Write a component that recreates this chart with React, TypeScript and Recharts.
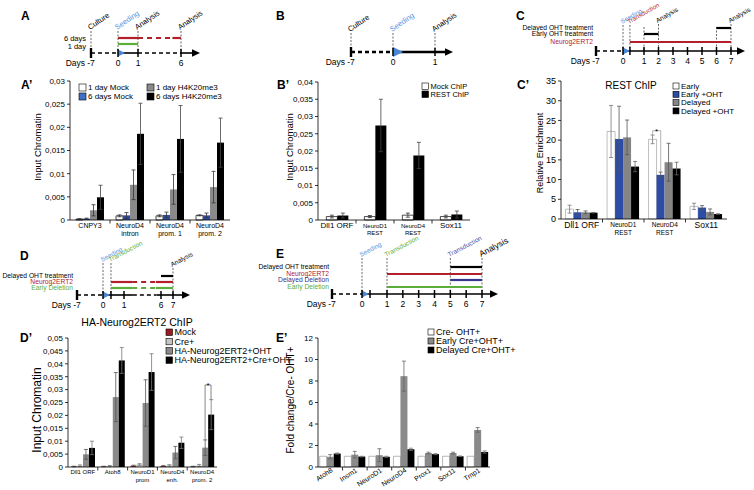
import React from 'react';
import {
  BarChart, Bar, XAxis, YAxis, ErrorBar,
  LineChart, Line, ReferenceLine, ReferenceDot,
} from 'recharts';

const FONT = 'Arial, "Liberation Sans", Helvetica, sans-serif';
const RED = '#b3202c';
const GREEN = '#5cae3a';
const SKY = '#5b94df';
const NAVY = '#34358f';
const TRI = '#4a86d6';
const BLUE = '#2d4ca6';
const GRAY = '#8a8a8a';

// ---------- A' : H4K20me3 ChIP ----------
const aCats = ['CNPY3', 'NeuroD4\nintron', 'NeuroD4\nprom. 1', 'NeuroD4\nprom. 2'];
const aMock1 = [0.0002, 0.0009, 0.0009, 0.001];
const aMock1Err = [0.0001, 0.0002, 0.0002, 0.0001];
const aMock6 = [0.0003, 0.001, 0.0011, 0.001];
const aMock6Err = [0.0001, 0.0006, 0.0006, 0.0005];
const aH1 = [0.0021, 0.0076, 0.0066, 0.0071];
const aH1Err = [0.0012, 0.0032, 0.0032, 0.0034];
const aH6 = [0.0049, 0.0186, 0.0175, 0.0167];
const aH6Err = [0.0026, 0.0066, 0.0072, 0.0053];
const aTicks = [0, 0.005, 0.01, 0.015, 0.02, 0.025, 0.03];

// ---------- B' : REST ChIP ----------
const bCats = ['Dll1 ORF', 'NeuroD1\nREST', 'NeuroD4\nREST', 'Sox11'];
const bMock = [0.001, 0.001, 0.0014, 0.001];
const bMockErr = [0.0004, 0.0003, 0.0006, 0.0004];
const bRest = [0.0013, 0.0274, 0.0187, 0.0016];
const bRestErr = [0.0007, 0.0076, 0.0038, 0.001];
const bTicks = [0, 0.005, 0.01, 0.015, 0.02, 0.025, 0.03, 0.035, 0.04];

// ---------- C' : REST ChIP relative enrichment ----------
const cCats = ['Dll1 ORF', 'NeuroD1\nREST', 'NeuroD4\nREST', 'Sox11'];
const cEarly = [2.5, 22.2, 20.2, 3.2];
const cEarlyErr = [1.0, 6.6, 1.1, 0.8];
const cEarlyOht = [1.7, 20.3, 11.2, 2.9];
const cEarlyOhtErr = [0.7, 8.3, 0.7, 0.5];
const cDelayed = [1.7, 20.7, 14.4, 1.8];
const cDelayedErr = [0.35, 4.4, 4.8, 0.75];
const cDelayedOht = [1.6, 13.3, 12.8, 1.26];
const cDelayedOhtErr = [0.05, 1.3, 1.6, 0.05];
const cTicks = [0, 5, 10, 15, 20, 25, 30, 35];
const cSigLevel = 22.4;

// ---------- D' : HA-Neurog2ERT2 ChIP ----------
const dCats = ['Dll1 ORF', 'Atoh8', 'NeuroD1\nprom', 'NeuroD4\nenh.', 'NeuroD4\nprom. 2'];
const dMock = [0.0002, 0.0002, 0.0005, 0.0004, 0.0002];
const dMockErr = [0.0001, 0.0001, 0.0002, 0.0002, 0.0001];
const dCre = [0.0005, 0.0004, 0.001, 0.0006, 0.0006];
const dCreErr = [0.0003, 0.0002, 0.0003, 0.0003, 0.0004];
const dOht = [0.0049, 0.0271, 0.0248, 0.0056, 0.0075];
const dOhtErr = [0.0019, 0.0095, 0.009, 0.0024, 0.003];
const dCreOht = [0.0074, 0.0413, 0.0368, 0.0094, 0.0203];
const dCreOhtErr = [0.0026, 0.005, 0.0071, 0.0022, 0.0058];
const dTicks = [0, 0.005, 0.01, 0.015, 0.02, 0.025, 0.03, 0.035, 0.04, 0.045, 0.05];
const dSigLevel = 0.0318;

// ---------- E' : fold change ----------
const eCats = ['Atoh8', 'Insm1', 'NeuroD1', 'NeuroD4', 'Prox1', 'Sox11', 'Tmp1'];
const eCtrl = [1, 1, 1, 1, 1, 1, 1];
const eEarly = [0.95, 1.15, 1.1, 8.45, 1.3, 1.3, 3.45];
const eEarlyErr = [0.2, 0.3, 0.6, 1.4, 0.08, 0.08, 0.22];
const eDelayed = [1.25, 0.97, 0.95, 1.65, 1.2, 1.0, 1.4];
const eDelayedErr = [0.05, 0.03, 0.05, 0.1, 0.05, 0.03, 0.1];
const eTicks = [0, 2, 4, 6, 8, 10, 12];

// ---------- timelines (days) ----------
type Span = [number, number, boolean?];
type TGuide = { day: number; top: number; text?: string; color?: string; size?: number };
type TBar = { text: string; color: string; textColor?: string; y: number; ty?: number; spans: Span[] };

const tlADays = [-7, 0, 1, 6];
const tlAGuides: TGuide[] = [
  { day: -7, top: 31, text: 'Culture' },
  { day: 0, top: 31, text: 'Seeding', color: SKY },
  { day: 1, top: 31, text: 'Analysis' },
  { day: 6, top: 31, text: 'Analysis' },
];
const tlABars: TBar[] = [
  { text: '6 days', color: RED, textColor: '#000', y: 38, ty: 0.5, spans: [[0, 1], [1, 5, true], [5, 6]] },
  { text: '1 day', color: GREEN, textColor: '#000', y: 44, ty: 2, spans: [[0, 1]] },
];

const tlBDays = [-7, 0, 1];
const tlBGuides: TGuide[] = [
  { day: -7, top: 33, text: 'Culture' },
  { day: 0, top: 33, text: 'Seeding', color: SKY },
  { day: 1, top: 33, text: 'Analysis' },
];

const tlCDays = [-7, 0, 1, 2, 3, 4, 5, 6, 7];
const tlCGuides: TGuide[] = [
  { day: 0, top: 25, text: 'Seeding', color: SKY },
  { day: 0.33, top: 25, text: 'Transduction', color: RED, size: 6.2 },
  { day: 1, top: 27 },
  { day: 2, top: 24, text: 'Analysis' },
  { day: 6, top: 27 },
  { day: 7, top: 24, text: 'Analysis' },
];
const tlCBars: TBar[] = [
  { text: 'Delayed OHT treatment', color: '#000', y: 28, spans: [[6, 7]] },
  { text: 'Early OHT treatment', color: '#000', y: 34, spans: [[1, 2]] },
  { text: 'Neurog2ERT2', color: RED, y: 42, spans: [[0.33, 7]] },
];

const tlDDays = [-7, 0, 1, 6, 7];
const tlDGuides: TGuide[] = [
  { day: 0, top: 263, text: 'Seeding', color: SKY },
  { day: 0.38, top: 263, text: 'Transduction', color: GREEN },
  { day: 7, top: 268, text: 'Analysis' },
];
const tlDBars: TBar[] = [
  { text: 'Delayed OHT treatment', color: '#000', y: 276, spans: [[6, 7]] },
  { text: 'Neurog2ERT2', color: RED, y: 282, spans: [[0.38, 2.1], [2.1, 5.3, true], [5.3, 7]] },
  { text: 'Early Deletion', color: GREEN, y: 288, spans: [[0.38, 2.1], [2.1, 5.3, true], [5.3, 7]] },
];

const tlEDays = [-7, 0, 1, 2, 3, 4, 5, 6, 7];
const tlEGuides: TGuide[] = [
  { day: 0, top: 258, text: 'Seeding', color: SKY },
  { day: 1, top: 258, text: 'Transduction', color: GREEN },
  { day: 5, top: 258, text: 'Transduction', color: '#4d4da6' },
  { day: 7, top: 258, text: 'Analysis', size: 8.5 },
];
const tlEBars: TBar[] = [
  { text: 'Delayed OHT treatment', color: '#000', y: 267, spans: [[5, 7]] },
  { text: 'Neurog2ERT2', color: RED, y: 274, spans: [[1, 7]] },
  { text: 'Delayed Deletion', color: NAVY, y: 280, spans: [[5, 7]] },
  { text: 'Early Deletion', color: GREEN, y: 287, spans: [[1, 7]] },
];

type TL = {
  box: { left: number; top: number; width: number; height: number };
  anchors: number[][];
  axisY: number;
  labelX: number;
  rowFont: number;
  angle: number;
  guideFont: number;
  ticks: number[];
  extra: number[];
  axis: Span[];
  guides: TGuide[];
  bars: TBar[];
  thick?: boolean;
  tri?: number;
};

const tlA: TL = {
  box: { left: 0, top: 0, width: 250, height: 72 },
  anchors: [[-7, 91], [0, 118], [1, 138], [6, 181], [6.9, 200]],
  axisY: 53, labelX: 86, rowFont: 7.5, angle: 34, guideFont: 7.5,
  ticks: tlADays, extra: [], axis: [[-7, 0, true], [0, 1], [1, 6, true], [6, 6.9]],
  guides: tlAGuides, bars: tlABars,
};
const tlB: TL = {
  box: { left: 250, top: 0, width: 250, height: 72 },
  anchors: [[-7, 351], [0, 393], [1, 435], [1.43, 453]],
  axisY: 52, labelX: 340, rowFont: 8, angle: 34, guideFont: 7.5,
  ticks: tlBDays, extra: [], axis: [[-7, 0, true], [0, 1.43]],
  guides: tlBGuides, bars: [], thick: true, tri: 10,
};
const tlC: TL = {
  box: { left: 500, top: 0, width: 254, height: 72 },
  anchors: [[-7, 596], [0, 623], [1, 644], [7, 731], [8, 745]],
  axisY: 51, labelX: 593, rowFont: 6.7, angle: 30, guideFont: 6.5,
  ticks: tlCDays, extra: [0.33], axis: [[-7, 0, true], [0, 8]],
  guides: tlCGuides, bars: tlCBars,
};
const tlD: TL = {
  box: { left: 0, top: 238, width: 250, height: 76 },
  anchors: [[-7, 77], [0, 103], [1, 124], [6, 161], [7, 173], [8.5, 190]],
  axisY: 295, labelX: 73, rowFont: 6.7, angle: 28, guideFont: 6.5,
  ticks: tlDDays, extra: [0.38], axis: [[-7, 0, true], [0, 2.2], [2.2, 5.4, true], [5.4, 8.5]],
  guides: tlDGuides, bars: tlDBars,
};
const tlE: TL = {
  box: { left: 250, top: 226, width: 262, height: 88 },
  anchors: [[-7, 332], [0, 362], [1, 387], [7, 482], [8, 498]],
  axisY: 294, labelX: 329, rowFont: 6.7, angle: 28, guideFont: 6.5,
  ticks: tlEDays, extra: [0.32], axis: [[-7, 0, true], [0, 8]],
  guides: tlEGuides, bars: tlEBars,
};

// piecewise day -> page x (broken schematic axis)
const warp = (a: number[][], d: number) => {
  let i = 0;
  while (i < a.length - 2 && d > a[i + 1][0]) i++;
  const [d0, x0] = a[i];
  const [d1, x1] = a[i + 1];
  return x0 + ((d - d0) * (x1 - x0)) / (d1 - d0);
};

function Timeline({ t }: { t: TL }) {
  const X = (d: number) => warp(t.anchors, d);
  const end = t.anchors[t.anchors.length - 1][0];
  const pts = [
    ...t.ticks.map((d, i) => ({ x: X(d), y: t.axisY, label: String(d), first: i === 0 })),
    ...t.extra.map((d) => ({ x: X(d), y: t.axisY, label: '', first: false })),
  ].sort((p, q) => p.x - q.x);
  const aw = t.thick ? 2.6 : 1.6;
  const tri = t.tri || 7;

  const tickDot = (p: any) => {
    const { cx, cy, payload, index } = p;
    const f = payload.first;
    return (
      <g key={'tk' + index}>
        <line x1={cx} x2={cx} y1={cy - (f ? 5 : 4)} y2={cy + (f ? 5 : 4)} stroke="#000" strokeWidth={f ? 2.4 : 1.5} />
        {payload.label && (
          <text x={cx} y={cy + 13} textAnchor="middle" fontSize={8.5} fill="#000">{payload.label}</text>
        )}
        {f && <text x={cx - 6} y={cy + 13} textAnchor="end" fontSize={8.5} fill="#000">Days</text>}
      </g>
    );
  };

  return (
    <div style={{ position: 'absolute', left: t.box.left, top: t.box.top }}>
      <LineChart width={t.box.width} height={t.box.height} data={pts} margin={{ top: 0, right: 0, bottom: 0, left: 0 }}>
        <XAxis type="number" dataKey="x" domain={[t.box.left, t.box.left + t.box.width]} hide />
        <YAxis type="number" domain={[t.box.top, t.box.top + t.box.height]} reversed hide />
        {t.guides.map((g, i) => (
          <ReferenceLine key={'g' + i} segment={[{ x: X(g.day), y: g.top }, { x: X(g.day), y: t.axisY }]}
            stroke="#000" strokeWidth={0.6} strokeDasharray="2 1.5" ifOverflow="visible" />
        ))}
        {t.axis.map(([a, b, dashed], i) => (
          <ReferenceLine key={'ax' + i}
            segment={[{ x: X(a), y: t.axisY }, { x: X(b) - (b === end ? 5 : 0), y: t.axisY }]}
            stroke="#000" strokeWidth={aw} strokeDasharray={dashed ? '4 3' : undefined} ifOverflow="visible" />
        ))}
        {t.bars.flatMap((b, i) => b.spans.map(([a, c, dashed], j) => (
          <ReferenceLine key={'b' + i + '_' + j} segment={[{ x: X(a), y: b.y }, { x: X(c), y: b.y }]}
            stroke={b.color} strokeWidth={2.2} strokeDasharray={dashed ? '5 4' : undefined} ifOverflow="visible" />
        )))}
        {t.bars.map((b, i) => (
          <ReferenceDot key={'bl' + i} x={t.labelX} y={b.y} r={1} ifOverflow="visible"
            shape={(p: any) => (
              <text x={p.cx} y={p.cy + (b.ty || 0) + t.rowFont * 0.36} textAnchor="end" fontSize={t.rowFont}
                fill={b.textColor || b.color}>{b.text}</text>
            )} />
        ))}
        {t.guides.filter((g) => g.text).map((g, i) => (
          <ReferenceDot key={'gl' + i} x={X(g.day)} y={g.top} r={1} ifOverflow="visible"
            shape={(p: any) => (
              <text x={p.cx - 1} y={p.cy - 1} fontSize={g.size || t.guideFont} fill={g.color || '#000'}
                transform={`rotate(-${t.angle} ${p.cx - 1} ${p.cy - 1})`}>{g.text}</text>
            )} />
        ))}
        <ReferenceDot x={X(0)} y={t.axisY} r={1} ifOverflow="visible"
          shape={(p: any) => (
            <polygon points={`${p.cx},${p.cy - tri / 2} ${p.cx + tri},${p.cy} ${p.cx},${p.cy + tri / 2}`} fill={TRI} />
          )} />
        <ReferenceDot x={X(end)} y={t.axisY} r={1} ifOverflow="visible"
          shape={(p: any) => (
            <polygon points={`${p.cx},${p.cy} ${p.cx - 8},${p.cy - 3.8} ${p.cx - 8},${p.cy + 3.8}`} fill="#000" />
          )} />
        <Line dataKey="y" stroke="none" dot={tickDot} activeDot={false} isAnimationActive={false} />
      </LineChart>
    </div>
  );
}

// ---------- bar panels ----------
const rows = (cats: string[], cols: [number[], number[]?][]) =>
  cats.map((cat, i) => {
    const r: any = { cat };
    cols.forEach(([v, e], k) => {
      r['s' + k] = v[i];
      if (e) r['e' + k] = e[i];
    });
    return r;
  });

const comma = (v: number) => (v === 0 ? '0' : String(v).replace('.', ','));

const catTick = (band: number, c1: number, lh: number, font: (s: string) => number, rotate = false) => (p: any) => {
  const { x, y, payload, index } = p;
  const v = String(payload.value);
  const lines = v.split('\n');
  const fs = font(v);
  const bx = x - band / 2;
  return (
    <g>
      {index > 0 && <line x1={bx} x2={bx} y1={y} y2={y + 3.5} stroke="#000" strokeWidth={0.8} />}
      {rotate ? (
        <text x={x + 3} y={y + 4.5} textAnchor="end" fontSize={fs} fill="#000" transform={`rotate(-33 ${x + 3} ${y + 4.5})`}>{v}</text>
      ) : (
        <text x={x} y={y + c1 + fs * 0.36} textAnchor="middle" fontSize={fs} fill="#000">
          {lines.map((l, i) => (
            <tspan key={i} x={x} dy={i === 0 ? 0 : lh}>{l}</tspan>
          ))}
        </text>
      )}
    </g>
  );
};

type Series = { fill: string; stroke?: string; err?: string };
type Sig = { cat: string; k1: number; v1: number; k2: number; v2: number; top: number; color: string };
type BP = {
  box: { left: number; top: number; width: number; height: number };
  margin: { top: number; right: number; bottom: number; left: number };
  yWidth: number;
  xHeight: number;
  data: any[];
  series: Series[];
  domain: [number, number];
  ticks: number[];
  fmt?: (v: number) => string;
  gap: number;
  yFont: number;
  tick: (band: number) => any;
  sig?: Sig;
};

function BarPanel(p: BP) {
  const plotW = p.box.width - p.margin.left - p.margin.right - p.yWidth;
  const band = plotW / p.data.length;
  const group = band * (1 - 2 * p.gap);
  const barW = group / p.series.length;
  const off = (k: number) => (k + 0.5) * barW - group / 2;
  const s = p.sig;
  return (
    <div style={{ position: 'absolute', left: p.box.left, top: p.box.top }}>
      <BarChart width={p.box.width} height={p.box.height} data={p.data} margin={p.margin}
        barCategoryGap={`${p.gap * 100}%`} barGap={0}>
        <XAxis dataKey="cat" interval={0} tickSize={0} tickMargin={0} height={p.xHeight}
          axisLine={{ stroke: '#000', strokeWidth: 0.8 }} tickLine={false} tick={p.tick(band)} />
        <YAxis type="number" domain={p.domain} ticks={p.ticks} interval={0} tickFormatter={p.fmt}
          width={p.yWidth} tickSize={3} tickMargin={2}
          axisLine={{ stroke: '#000', strokeWidth: 0.8 }} tickLine={{ stroke: '#000', strokeWidth: 0.8 }}
          tick={{ fontSize: p.yFont, fill: '#000' }} />
        {p.series.map((sr, k) => (
          <Bar key={k} dataKey={'s' + k} fill={sr.fill} stroke={sr.stroke || 'none'} strokeWidth={sr.stroke ? 0.7 : 0}
            isAnimationActive={false}>
            {sr.err && <ErrorBar dataKey={'e' + k} width={2} stroke={sr.err} strokeWidth={0.8} />}
          </Bar>
        ))}
        {s && (
          <ReferenceLine segment={[{ x: s.cat, y: s.v1 }, { x: s.cat, y: s.top }]} ifOverflow="visible"
            shape={(q: any) => (
              <path d={`M${q.x1 + off(s.k1)},${q.y1}L${q.x2 + off(s.k1)},${q.y2}L${q.x2 + off(s.k2)},${q.y2}`}
                fill="none" stroke={s.color} strokeWidth={0.8} />
            )} />
        )}
        {s && (
          <ReferenceLine segment={[{ x: s.cat, y: s.top }, { x: s.cat, y: s.v2 }]} ifOverflow="visible"
            shape={(q: any) => (
              <g>
                <path d={`M${q.x1 + off(s.k2)},${q.y1}L${q.x2 + off(s.k2)},${q.y2}`} fill="none" stroke={s.color} strokeWidth={0.8} />
                <text x={q.x1 + (off(s.k1) + off(s.k2)) / 2} y={q.y1 + 3.5} textAnchor="middle" fontSize={8} fill="#000">*</text>
              </g>
            )} />
        )}
      </BarChart>
    </div>
  );
}

function Legend({ x, y, step, box, font, items }: { x: number; y: number; step: number; box: number; font: number; items: { label: string; fill: string }[] }) {
  return (
    <g>
      {items.map((it, i) => (
        <g key={i}>
          <rect x={x} y={y + i * step} width={box} height={box} fill={it.fill} stroke="#000" strokeWidth={0.6} />
          <text x={x + box + 2} y={y + i * step + box / 2 + font * 0.36} fontSize={font} fill="#000">{it.label}</text>
        </g>
      ))}
    </g>
  );
}

const YTitle = ({ cx, cy, fs, text }: { cx: number; cy: number; fs: number; text: string }) => (
  <text transform={`translate(${cx + fs * 0.36},${cy}) rotate(-90)`} textAnchor="middle" fontSize={fs} fill="#000">{text}</text>
);

const Letter = ({ x, y, text }: { x: number; y: number; text: string }) => (
  <text x={x} y={y} fontSize={12} fontWeight="bold" fill="#000">{text}</text>
);

export default function App() {
  const aData = rows(aCats, [[aMock1, aMock1Err], [aMock6, aMock6Err], [aH1, aH1Err], [aH6, aH6Err]]);
  const bData = rows(bCats, [[bMock, bMockErr], [bRest, bRestErr]]);
  const cData = rows(cCats, [[cEarly, cEarlyErr], [cEarlyOht, cEarlyOhtErr], [cDelayed, cDelayedErr], [cDelayedOht, cDelayedOhtErr]]);
  const dData = rows(dCats, [[dMock, dMockErr], [dCre, dCreErr], [dOht, dOhtErr], [dCreOht, dCreOhtErr]]);
  const eData = rows(eCats, [[eCtrl], [eEarly, eEarlyErr], [eDelayed, eDelayedErr]]);
  const twoLine = (big: number, small: number) => (s: string) => (s.includes('\n') ? small : big);

  return (
    <div style={{ position: 'absolute', left: 0, top: 0, width: 754, height: 490, background: '#fff', fontFamily: FONT, overflow: 'hidden' }}>
      <BarPanel box={{ left: 0, top: 70, width: 240, height: 190 }} margin={{ top: 11, right: 10, bottom: 10, left: 0 }}
        yWidth={70} xHeight={30} data={aData} domain={[0, 0.03]} ticks={aTicks} fmt={comma} gap={0.15} yFont={8}
        series={[{ fill: '#fff', stroke: '#000', err: '#333' }, { fill: BLUE, err: '#333' }, { fill: GRAY, err: '#333' }, { fill: '#000', err: '#444' }]}
        tick={(band) => catTick(band, 5, 8.5, () => 7)} />

      <BarPanel box={{ left: 250, top: 70, width: 230, height: 190 }} margin={{ top: 12, right: 10, bottom: 10, left: 0 }}
        yWidth={68} xHeight={30} data={bData} domain={[0, 0.04]} ticks={bTicks} fmt={comma} gap={0.22} yFont={8}
        series={[{ fill: '#fff', stroke: '#000', err: '#333' }, { fill: '#000', err: '#444' }]}
        tick={(band) => catTick(band, 5.5, 7, twoLine(8, 6))} />

      <BarPanel box={{ left: 500, top: 70, width: 240, height: 190 }} margin={{ top: 11, right: 13, bottom: 11, left: 0 }}
        yWidth={61} xHeight={30} data={cData} domain={[0, 35]} ticks={cTicks} gap={0.11} yFont={9}
        series={[{ fill: '#fff', stroke: '#a0a0a0', err: '#777' }, { fill: BLUE, err: '#555' }, { fill: '#858585', err: '#555' }, { fill: '#000', err: '#666' }]}
        tick={(band) => catTick(band, 6, 8, twoLine(8.5, 6.5))}
        sig={{ cat: cCats[2], k1: 0, v1: cEarly[2] + cEarlyErr[2], k2: 1, v2: cEarlyOht[2] + cEarlyOhtErr[2], top: cSigLevel, color: '#a0a0a0' }} />

      <BarPanel box={{ left: 0, top: 320, width: 230, height: 170 }} margin={{ top: 18, right: 13, bottom: 1, left: 0 }}
        yWidth={68} xHeight={22} data={dData} domain={[0, 0.05]} ticks={dTicks} fmt={comma} gap={0.1} yFont={8}
        series={[{ fill: '#9b1c20', err: '#555' }, { fill: '#c4c4c4', err: '#777' }, { fill: GRAY, err: '#555' }, { fill: '#000', err: '#777' }]}
        tick={(band) => catTick(band, 4.5, 8, () => 6)}
        sig={{ cat: dCats[4], k1: 2, v1: dOht[4] + dOhtErr[4], k2: 3, v2: dCreOht[4] + dCreOhtErr[4], top: dSigLevel, color: '#666' }} />

      <BarPanel box={{ left: 250, top: 320, width: 250, height: 170 }} margin={{ top: 18, right: 10, bottom: 1, left: 0 }}
        yWidth={68} xHeight={22} data={eData} domain={[0, 12]} ticks={eTicks} gap={0.07} yFont={8}
        series={[{ fill: '#fff', stroke: '#999' }, { fill: GRAY, err: '#666' }, { fill: '#000', err: '#777' }]}
        tick={(band) => catTick(band, 0, 0, () => 7, true)} />

      <Timeline t={tlA} />
      <Timeline t={tlB} />
      <Timeline t={tlC} />
      <Timeline t={tlD} />
      <Timeline t={tlE} />

      <svg width={754} height={490} style={{ position: 'absolute', left: 0, top: 0, pointerEvents: 'none' }} fontFamily={FONT}>
        <Letter x={21} y={19.5} text="A" />
        <Letter x={276} y={20} text="B" />
        <Letter x={516} y={20} text="C" />
        <Letter x={20} y={260} text="D" />
        <Letter x={276} y={258} text="E" />
        <Letter x={21} y={89} text="A’" />
        <Letter x={277} y={89} text="B’" />
        <Letter x={517} y={89} text="C’" />
        <Letter x={20} y={342} text="D’" />
        <Letter x={276} y={342} text="E’" />

        <YTitle cx={38} cy={147} fs={9.5} text="Input Chromatin" />
        <YTitle cx={290} cy={147} fs={9.5} text="Input Chromatin" />
        <YTitle cx={540} cy={153} fs={9} text="Relative Enrichment" />
        <YTitle cx={37} cy={410} fs={12} text="Input Chromatin" />
        <YTitle cx={290} cy={400} fs={10} text="Fold change/Cre- OHT+" />

        <Legend x={79} y={84} step={9} box={7} font={8} items={[{ label: '1 day Mock', fill: '#fff' }, { label: '6 days Mock', fill: '#3f6fc6' }]} />
        <Legend x={147} y={84} step={9} box={7} font={8} items={[{ label: '1 day H4K20me3', fill: GRAY }, { label: '6 days H4K20me3', fill: '#000' }]} />
        <Legend x={422} y={83} step={8} box={6.5} font={7.5} items={[{ label: 'Mock  ChIP', fill: '#fff' }, { label: 'REST ChIP', fill: '#000' }]} />
        <text x={631} y={89} textAnchor="middle" fontSize={10} fill="#000">REST ChIP</text>
        <Legend x={673} y={83} step={8.3} box={6} font={8} items={[
          { label: 'Early', fill: '#fff' }, { label: 'Early +OHT', fill: BLUE },
          { label: 'Delayed', fill: '#858585' }, { label: 'Delayed +OHT', fill: '#000' }]} />
        <text x={137} y={326} textAnchor="middle" fontSize={10.5} fill="#000">HA-Neurog2ERT2 ChIP</text>
        <Legend x={166} y={329} step={9.3} box={6.5} font={9} items={[
          { label: 'Mock', fill: '#9b1c20' }, { label: 'Cre+', fill: '#c4c4c4' },
          { label: 'HA-Neurog2ERT2+OHT', fill: GRAY }, { label: 'HA-Neurog2ERT2+Cre+OHT', fill: '#000' }]} />
        <Legend x={428} y={329} step={9} box={6} font={9} items={[
          { label: 'Cre- OHT+', fill: '#fff' }, { label: 'Early Cre+OHT+', fill: GRAY },
          { label: 'Delayed Cre+OHT+', fill: '#000' }]} />
      </svg>
    </div>
  );
}
